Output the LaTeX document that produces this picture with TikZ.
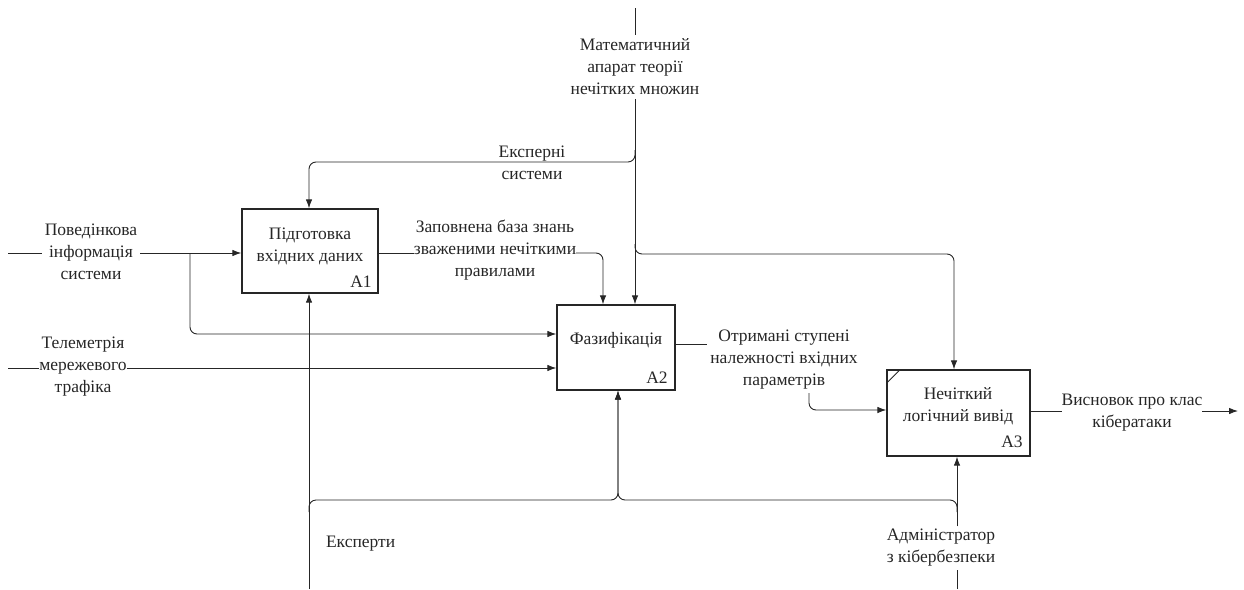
\documentclass[tikz,border=0pt]{standalone}
\usepackage{fontspec}
\setmainfont{Liberation Serif}
\usetikzlibrary{arrows.meta}
\begin{document}
\begin{tikzpicture}[x=1pt,y=-1pt,
  conn/.style={line width=0.9pt, draw=black!85, rounded corners=7pt},
  arr/.style={conn, -{Latex[length=9pt,width=6.5pt]}},
  box/.style={draw=black!85, line width=1.3pt, inner sep=0pt},
  lbl/.style={font=\fontsize{17.5}{22}\selectfont, align=center, inner sep=0pt, outer sep=0pt, text=black!85}]
\useasboundingbox (0,0) rectangle (1244,589);

% boxes
\node[box, minimum width=136pt, minimum height=84pt] (A1) at (310,251) {};
\node[box, minimum width=118pt, minimum height=85pt] (A2) at (616,347.5) {};
\node[box, minimum width=143pt, minimum height=86pt] (A3) at (958.5,413) {};
\node[lbl] (A1t) at (310,246) {Підготовка\\вхідних даних};
\node[lbl] (A1n) at (361,282) {A1};
\node[lbl] (A2t) at (616,340) {Фазифікація};
\node[lbl] (A2n) at (657,378) {A2};
\node[lbl] (A3t) at (958,406) {Нечіткий\\логічний вивід};
\node[lbl] (A3n) at (1012,442) {A3};
\draw[line width=0.8pt, draw=black!85] ([yshift=-14pt]A3.north west) -- ([xshift=14pt]A3.north west);

% helper coordinates
\coordinate (y253) at (0,253);
\coordinate (y344) at (0,344);
\coordinate (y368) at (0,368);
\coordinate (y410) at (0,410);
\coordinate (y411) at (0,411);

% control: mathematical apparatus
\coordinate (mtop) at (635,8);
\node[lbl, outer sep=4pt] (mtxt) at (635,67) {Математичний\\апарат теорії\\нечітких множин};
\draw[conn] (mtop) -- (mtxt.north);
\draw[arr] (mtxt.south) -- (mtxt.south |- A2.north);

% branch: expert systems -> A1
\coordinate (b1) at (635,150);
\coordinate (b1c) at (309,162);
\draw[arr] (b1) |- (b1c) -- (b1c |- A1.north);
\node[lbl] (ext) at (532,163) {Експерні\\системи};

% branch: -> A3 control
\coordinate (b2) at (635,244);
\coordinate (a3c) at (954,254);
\draw[arr] (b2) |- (a3c) -- (a3c |- A3.north);

% input 1
\coordinate (in1) at (8,253);
\node[lbl, outer sep=3pt] (t1) at (91,252) {Поведінкова\\інформація\\системи};
\draw[conn] (in1) -- (t1.west |- in1);
\draw[arr] (t1.east |- in1) -- (A1.west |- in1);
\coordinate (br1) at (190,253);
\coordinate (in1b) at (190,334);
\draw[arr] (br1) -- (in1b) -- (in1b -| A2.west);

% input 2
\coordinate (in2) at (8,368);
\node[lbl] (t2) at (83,367) {Телеметрія\\мережевого\\трафіка};
\draw[conn] (in2) -- (t2.west |- in2);
\draw[arr] (t2.east |- in2) -- (A2.west |- in2);

% A1 -> A2
\node[lbl] (t3) at (495,250) {Заповнена база знань\\зваженими нечіткими\\правилами};
\coordinate (c3) at (603,253);
\draw[conn] (A1.east |- y253) -- (t3.west |- y253);
\draw[arr] (t3.east |- y253) -- (c3) -- (c3 |- A2.north);

% A2 -> A3
\node[lbl] (t4) at (784,360) {Отримані ступені\\належності вхідних\\параметрів};
\coordinate (o2e) at (707,344);
\draw[conn] (A2.east |- y344) -- (o2e);
\coordinate (o2s) at (809,393);
\draw[arr] (o2s) |- (A3.west |- y410);

% A3 output
\node[lbl] (t5) at (1132,413) {Висновок про клас\\кібератаки};
\coordinate (out) at (1238,411);
\draw[conn] (A3.east |- y411) -- (t5.west |- y411);
\draw[arr] (t5.east |- y411) -- (out);

% mechanisms
\coordinate (m1) at (309,589);
\draw[arr] (m1) -- (m1 |- A1.south);
\coordinate (busL) at (309,512);
\coordinate (busR) at (957,512);
\coordinate (j2) at (618,500);
\draw[arr] (busL) |- (j2) -- (j2 |- A2.south);
\draw[arr] (busR) |- (j2) -- (j2 |- A2.south);
\node[lbl, anchor=west] (t7) at (326,544) {Експерти};

\coordinate (m3) at (957,589);
\node[lbl, outer sep=3pt] (t6) at (941,548) {Адміністратор\\з кібербезпеки};
\draw[conn] (m3) -- (t6.south -| m3);
\draw[arr] (t6.north -| m3) -- (m3 |- A3.south);
\end{tikzpicture}
\end{document}
